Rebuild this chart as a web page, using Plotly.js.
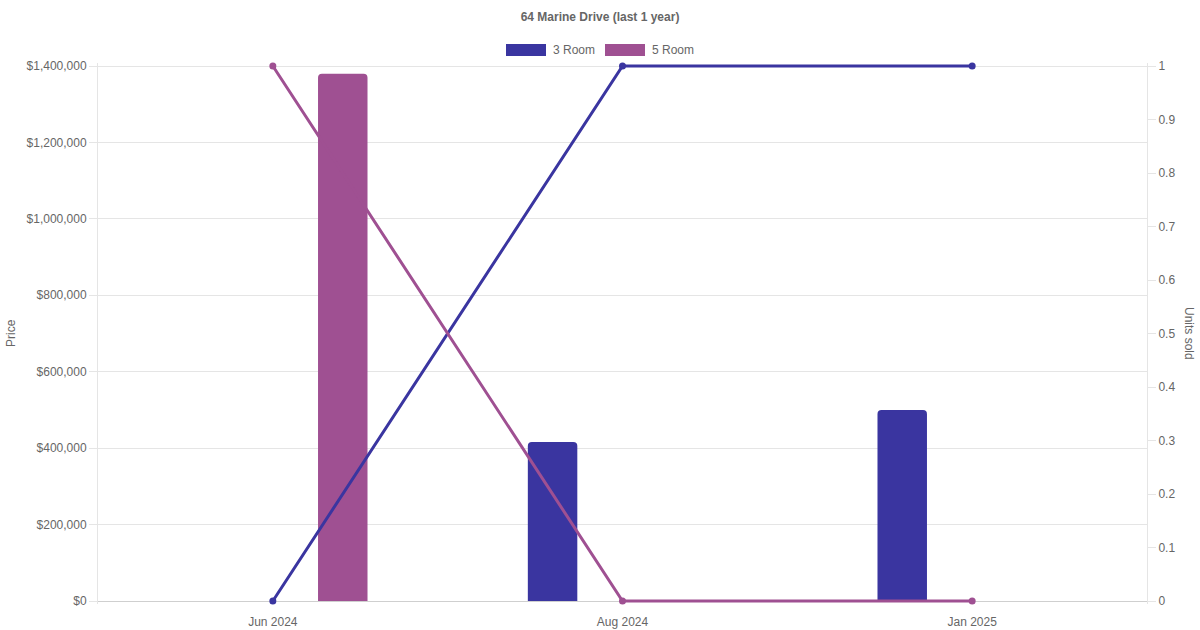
<!DOCTYPE html>
<html>
<head>
<meta charset="utf-8">
<script src="https://cdn.plot.ly/plotly-3.0.1.min.js"></script>
<style>
  html, body { margin: 0; padding: 0; background: #fff; }
  #plotDiv { width: 1200px; height: 630px; }
</style>
</head>
<body>
<div id="plotDiv"></div>
<script>
var months = ['Jun 2024', 'Aug 2024', 'Jan 2025'];

// price per month (bars)
var price3Room = [null, 416000, 500000];
var price5Room = [1380000, null, null];

// units sold per month (lines)
var units3Room = [0, 1, 1];
var units5Room = [1, 0, 0];

// axis ticks
var priceTicks = [0, 200000, 400000, 600000, 800000, 1000000, 1200000, 1400000];
var unitTicks = [0, 0.1, 0.2, 0.3, 0.4, 0.5, 0.6, 0.7, 0.8, 0.9, 1];

var blue = '#3a35a0';
var purple = '#9f5092';
var grey = '#666666';
var font = 'Liberation Sans, Arial, Helvetica, sans-serif';

function makePlot(){
  var barWidth = 0.1415;

  // the plot area is padded by 3px top and bottom so the 3px lines at 0 and 1 are not clipped
  var pad = 3 / 535;
  var priceMax = 1400000;

  var bar3 = {
    x: months,
    y: price3Room,
    type: 'bar',
    name: '3 Room',
    width: barWidth,
    offset: -0.2 - barWidth / 2,
    marker: { color: blue, line: { width: 0 } }
  };

  var bar5 = {
    x: months,
    y: price5Room,
    type: 'bar',
    name: '5 Room',
    width: barWidth,
    offset: 0.2 - barWidth / 2,
    marker: { color: purple, line: { width: 0 } }
  };

  var line3 = {
    x: months,
    y: units3Room,
    yaxis: 'y2',
    type: 'scatter',
    mode: 'lines+markers',
    name: '3 Room units',
    line: { color: blue, width: 3 },
    marker: { color: blue, size: 7 },
    cliponaxis: false,
    showlegend: false
  };

  var line5 = {
    x: months,
    y: units5Room,
    yaxis: 'y2',
    type: 'scatter',
    mode: 'lines+markers',
    name: '5 Room units',
    line: { color: purple, width: 3 },
    marker: { color: purple, size: 7 },
    cliponaxis: false,
    showlegend: false
  };

  var data = [bar3, bar5, line3, line5];

  // pixel -> paper helpers (plot area x 98..1147, y 63..604)
  var px = function(v){ return (v - 98) / 1049; };
  var py = function(v){ return (604 - v) / 541; };

  var priceText = priceTicks.map(function(v){ return '$' + v.toLocaleString('en-US'); });

  var layout = {
    width: 1200,
    height: 630,
    margin: { l: 98, r: 53, t: 63, b: 26 },
    paper_bgcolor: '#fff',
    plot_bgcolor: '#fff',
    font: { family: font, size: 12, color: grey },
    showlegend: false,
    barmode: 'overlay',
    barcornerradius: 4,
    title: {
      text: '64 Marine Drive (last 1 year)',
      x: 0.5,
      xanchor: 'center',
      y: 1 - 17 / 630,
      yanchor: 'middle',
      font: { family: font, size: 12, color: grey, weight: 'bold' }
    },
    xaxis: {
      type: 'category',
      range: [-0.5, 2.5],
      showgrid: false,
      zeroline: false,
      showline: false,
      ticks: '',
      ticklabelstandoff: 9,
      tickfont: { family: font, size: 12, color: grey },
      fixedrange: true
    },
    yaxis: {
      range: [-priceMax * pad, priceMax * (1 + pad)],
      tickmode: 'array',
      tickvals: priceTicks,
      ticktext: priceText,
      showgrid: true,
      gridcolor: '#e5e5e5',
      zeroline: true,
      zerolinecolor: '#cfcfcf',
      zerolinewidth: 1,
      showline: true,
      linecolor: '#e5e5e5',
      ticks: 'outside',
      ticklen: 8,
      tickcolor: '#e5e5e5',
      ticklabelstandoff: 0,
      tickfont: { family: font, size: 12, color: grey },
      fixedrange: true
    },
    yaxis2: {
      overlaying: 'y',
      side: 'right',
      range: [-pad, 1 + pad],
      tickmode: 'array',
      tickvals: unitTicks,
      showgrid: false,
      zeroline: false,
      showline: true,
      linecolor: '#e5e5e5',
      ticks: 'outside',
      ticklen: 8,
      tickcolor: '#e5e5e5',
      ticklabelstandoff: 0,
      tickfont: { family: font, size: 12, color: grey },
      fixedrange: true
    },
    shapes: [
      { type: 'rect', xref: 'paper', yref: 'paper',
        x0: px(506), x1: px(546), y0: py(56), y1: py(44),
        fillcolor: blue, line: { width: 0 } },
      { type: 'rect', xref: 'paper', yref: 'paper',
        x0: px(605), x1: px(645), y0: py(56), y1: py(44),
        fillcolor: purple, line: { width: 0 } }
    ],
    annotations: [
      { text: '3 Room', xref: 'paper', yref: 'paper', x: px(551), y: py(50),
        xanchor: 'left', yanchor: 'middle', showarrow: false,
        font: { family: font, size: 12, color: grey } },
      { text: '5 Room', xref: 'paper', yref: 'paper', x: px(650), y: py(50),
        xanchor: 'left', yanchor: 'middle', showarrow: false,
        font: { family: font, size: 12, color: grey } },
      { text: 'Price', xref: 'paper', yref: 'paper', x: px(11), y: py(333),
        xanchor: 'center', yanchor: 'middle', textangle: -90, showarrow: false,
        font: { family: font, size: 12, color: grey } },
      { text: 'Units sold', xref: 'paper', yref: 'paper', x: px(1189), y: py(333),
        xanchor: 'center', yanchor: 'middle', textangle: 90, showarrow: false,
        font: { family: font, size: 12, color: grey } }
    ]
  };

  Plotly.newPlot('plotDiv', data, layout, { displayModeBar: false, staticPlot: true });
}

makePlot();
</script>
</body>
</html>
